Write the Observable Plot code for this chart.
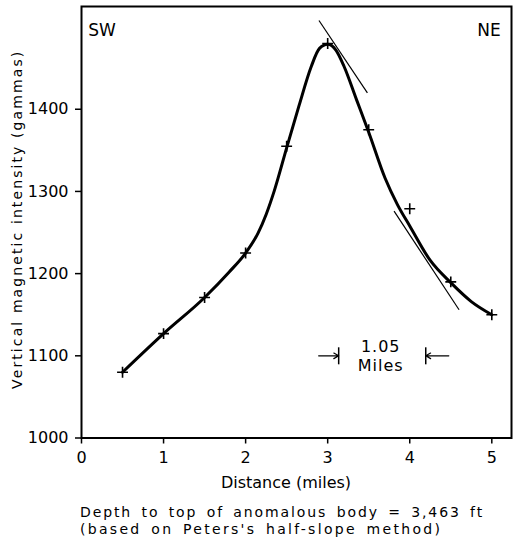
<!DOCTYPE html>
<html><head><meta charset="utf-8">
<script src="https://cdn.jsdelivr.net/npm/d3@7"></script>
<script src="https://cdn.jsdelivr.net/npm/@observablehq/plot@0.6"></script>
<style>
body{margin:0;background:#fff;font-family:"DejaVu Sans",sans-serif;color:#000;}
#chart{position:relative;width:516px;height:543px;overflow:hidden;}
.cap{position:absolute;left:80px;top:504px;font-size:14px;line-height:16.5px;word-spacing:3px;white-space:nowrap;}
.l1{letter-spacing:1.9px;}
.l2{letter-spacing:2.3px;}
</style></head><body><div id="chart"></div>
<script>
// measured stations
const distance = [0.5, 1, 1.5, 2, 2.5, 3, 3.5, 4, 4.5, 5];
const intensity = [1080, 1127, 1171, 1225, 1355, 1480, 1375, 1279, 1190, 1150];
// smoothed profile as drawn
const curveX = [0.5, 1, 1.5, 1.8, 2, 2.15, 2.25, 2.35, 2.5, 2.65, 2.8, 2.9, 3.0, 3.1, 3.2, 3.35, 3.5, 3.7, 3.85, 4.0, 4.25, 4.5, 4.75, 5];
const curveY = [1080, 1127, 1171, 1202, 1225, 1249, 1272, 1301, 1353, 1404, 1452, 1474, 1479, 1472, 1452, 1412, 1372, 1316, 1284, 1258, 1216, 1189, 1166, 1150];
// half-slope tangent lines
const tanX1 = [2.894, 3.809], tanY1 = [1508, 1276];
const tanX2 = [3.484, 4.601], tanY2 = [1420, 1156];
// dimension arrows for 1.05 miles
const dimTail = [2.89, 4.476], dimHead = [3.134, 4.195], dimY = [1100, 1100];
const dimLabels = ["1.05", "Miles"], dimLabelX = [3.646, 3.646], dimLabelY = [1111, 1088];
const xTicks = [0, 1, 2, 3, 4, 5];
const yTicks = [1000, 1100, 1200, 1300, 1400];

const pts = distance.map((d, i) => ({x: d, y: intensity[i]}));
const curve = curveX.map((d, i) => ({x: d, y: curveY[i]}));
const tans = tanX1.map((d, i) => ({x1: d, y1: tanY1[i], x2: tanX2[i], y2: tanY2[i]}));
const dims = dimTail.map((d, i) => ({x1: d, x2: dimHead[i], y: dimY[i]}));
const labs = dimLabels.map((t, i) => ({t, x: dimLabelX[i], y: dimLabelY[i]}));
const bar = {draw(ctx, size) { const h = Math.sqrt(size) * 0.6; ctx.moveTo(0, -h); ctx.lineTo(0, h); }};

const chart = Plot.plot({
  width: 516, height: 500,
  marginLeft: 81, marginRight: 5, marginTop: 6, marginBottom: 62.5,
  style: {fontFamily: "DejaVu Sans", fontSize: "16px", color: "#000", background: "#fff"},
  x: {domain: [0, 5.24], axis: null},
  y: {domain: [1000, 1525], axis: null},
  marks: [
    Plot.frame({stroke: "#000", strokeWidth: 2}),
    Plot.axisX({ticks: xTicks, tickSize: 6, tickPadding: 8, fontSize: 16, label: null, tickFormat: d => String(d), strokeWidth: 1.5}),
    Plot.axisY({ticks: yTicks, tickSize: 6, tickPadding: 7, fontSize: 16, label: null, tickFormat: d => String(d), strokeWidth: 1.5}),
    Plot.line(curve, {x: "x", y: "y", curve: "monotone-x", stroke: "#000", strokeWidth: 3}),
    Plot.link(tans, {x1: "x1", y1: "y1", x2: "x2", y2: "y2", stroke: "#000", strokeWidth: 1.2}),
    Plot.dot(pts, {x: "x", y: "y", symbol: "plus", r: 3.6, stroke: "#000", strokeWidth: 1.6}),
    Plot.arrow(dims, {x1: "x1", x2: "x2", y1: "y", y2: "y", stroke: "#000", strokeWidth: 1.2, headLength: 7}),
    Plot.dot(dims, {x: "x2", y: "y", symbol: bar, r: 8, stroke: "#000", strokeWidth: 1.5}),
    Plot.text(labs, {x: "x", y: "y", text: "t", fontSize: 16}),
    Plot.text(["SW"], {frameAnchor: "top-left", dx: 20.5, dy: 17, fontSize: 17, textAnchor: "middle"}),
    Plot.text(["NE"], {frameAnchor: "top-right", dx: -22.5, dy: 17, fontSize: 17, textAnchor: "middle"}),
    Plot.text(["Distance (miles)"], {frameAnchor: "bottom", dx: -10.5, dy: 49.5, fontSize: 16}),
    Plot.text(["Vertical magnetic intensity (gammas)"], {frameAnchor: "left", textAnchor: "middle", dx: -64, dy: -3, rotate: -90, fontSize: 14})
  ]
});
d3.select(chart).selectAll("text").filter(function() { return this.textContent === "Vertical magnetic intensity (gammas)"; }).style("letter-spacing", "2.1px");
d3.select(chart).selectAll("text").filter(function() { return this.textContent === "1.05" || this.textContent === "Miles"; }).style("letter-spacing", "1px");
const root = document.getElementById("chart");
root.appendChild(chart);
const cap = document.createElement("div"); cap.className = "cap";
const s1 = document.createElement("span"); s1.className = "l1"; s1.textContent = "Depth to top of anomalous body = 3,463 ft";
const s2 = document.createElement("span"); s2.className = "l2"; s2.textContent = "(based on Peters's half-slope method)";
cap.appendChild(s1); cap.appendChild(document.createElement("br")); cap.appendChild(s2);
root.appendChild(cap);
</script></body></html>
